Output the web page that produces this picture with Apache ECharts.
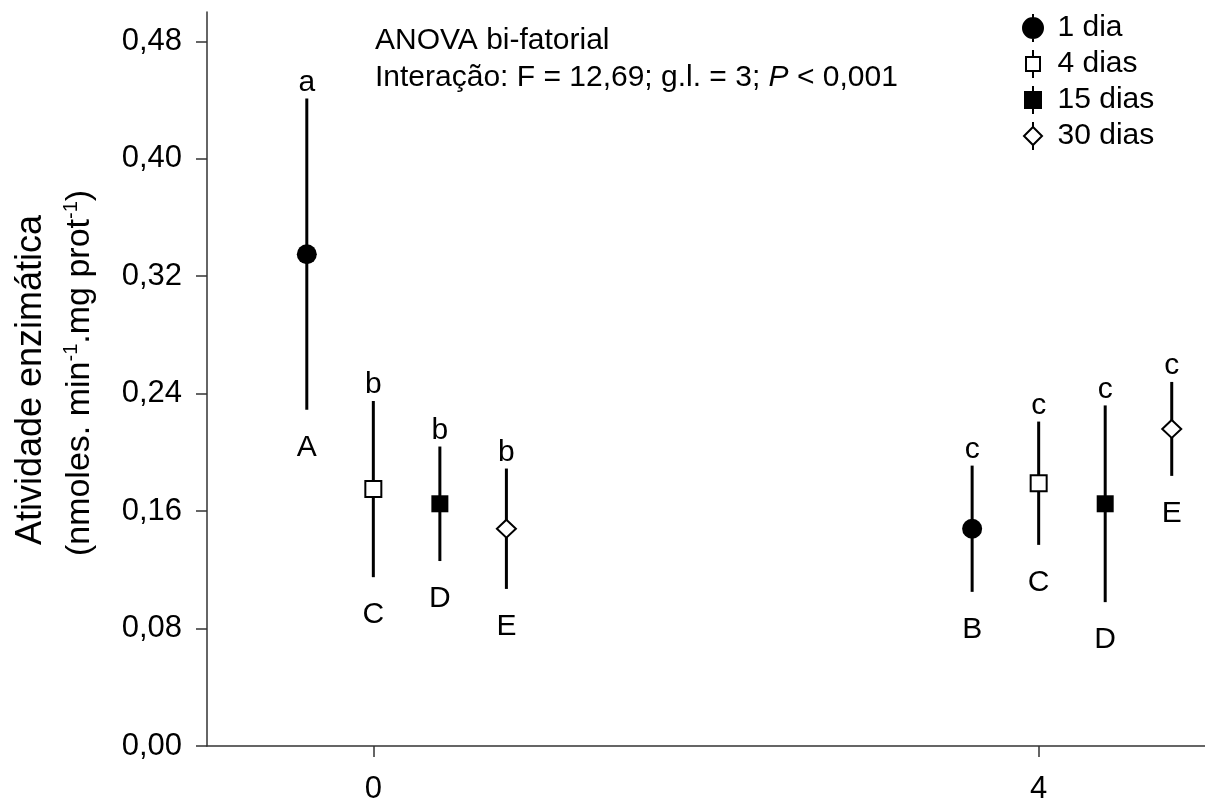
<!DOCTYPE html>
<html>
<head>
<meta charset="utf-8">
<script src="https://cdn.jsdelivr.net/npm/echarts@6/dist/echarts.min.js"></script>
<style>
  html, body { margin: 0; padding: 0; background: #fff; }
  #chart { width: 1205px; height: 805px; }
</style>
</head>
<body>
<div id="chart"></div>
<script>
// Sampling times (legend) and exposure groups on the x axis
const timeNames = ['1 dia', '4 dias', '15 dias', '30 dias'];
const groups = [0, 4];
const groupOffsets = [-0.4, 0, 0.4, 0.8];

// Mean enzyme activity per time, for group 0 and group 4
const mean1dia  = [0.335, 0.148];
const mean4dias = [0.175, 0.179];
const mean15dias = [0.165, 0.165];
const mean30dias = [0.148, 0.216];

// Standard deviations (symmetric error bars)
const sd1dia  = [0.106, 0.043];
const sd4dias = [0.060, 0.042];
const sd15dias = [0.039, 0.067];
const sd30dias = [0.041, 0.032];

// Significance letters: lowercase above each bar, uppercase below
const upperLetters = [['a', 'c'], ['b', 'c'], ['b', 'c'], ['b', 'c']];
const lowerLetters = [['A', 'B'], ['C', 'C'], ['D', 'D'], ['E', 'E']];

// Axis ticks
const yTicks = [0, 0.08, 0.16, 0.24, 0.32, 0.40, 0.48];
const xTicks = [0, 4];

const means = [mean1dia, mean4dias, mean15dias, mean30dias];
const sds = [sd1dia, sd4dias, sd15dias, sd30dias];

const FONT = '"Liberation Sans", Arial, sans-serif';
const markerKinds = ['circle', 'square', 'filledSquare', 'diamond'];

function markerShape(kind, cx, cy) {
  if (kind === 'circle') {
    return { type: 'circle', shape: { cx: cx, cy: cy, r: 10 }, style: { fill: '#000' } };
  }
  if (kind === 'square') {
    return { type: 'rect', shape: { x: cx - 8, y: cy - 8, width: 16, height: 16 },
             style: { fill: '#fff', stroke: '#000', lineWidth: 2 } };
  }
  if (kind === 'filledSquare') {
    return { type: 'rect', shape: { x: cx - 8.5, y: cy - 8.5, width: 17, height: 17 },
             style: { fill: '#000' } };
  }
  return { type: 'polygon',
           shape: { points: [[cx, cy - 9], [cx + 9.5, cy], [cx, cy + 9], [cx - 9.5, cy]] },
           style: { fill: '#fff', stroke: '#000', lineWidth: 2 } };
}

const letterStyle = { font: '30px ' + FONT, fill: '#000', textAlign: 'center', textVerticalAlign: 'middle' };

const series = timeNames.map(function (name, t) {
  return {
    name: name,
    type: 'custom',
    data: groups.map(function (g, gi) { return [g + groupOffsets[t], means[t][gi], sds[t][gi]]; }),
    encode: { x: 0, y: 1 },
    clip: false,
    renderItem: function (params, api) {
      const x = api.value(0), m = api.value(1), s = api.value(2);
      const c = api.coord([x, m]);
      const top = api.coord([x, m + s]);
      const bot = api.coord([x, m - s]);
      const gi = params.dataIndex;
      return {
        type: 'group',
        children: [
          { type: 'line', shape: { x1: c[0], y1: top[1], x2: c[0], y2: bot[1] },
            style: { stroke: '#000', lineWidth: 3 } },
          markerShape(markerKinds[t], c[0], c[1]),
          { type: 'text', x: c[0], y: top[1] - 16,
            style: Object.assign({ text: upperLetters[t][gi] }, letterStyle) },
          { type: 'text', x: c[0], y: bot[1] + 38,
            style: Object.assign({ text: lowerLetters[t][gi] }, letterStyle) }
        ]
      };
    }
  };
});

// Legend icons (39 x 28 box): marker with short error-bar stubs
const legendIcons = [
  'path://M0,0M39,28M19.5,0L19.5,28M9.5,14A10,10,0,1,1,29.5,14A10,10,0,1,1,9.5,14Z',
  'path://M0,0M39,28M19.5,0L19.5,7M12.5,7L26.5,7L26.5,21L12.5,21ZM19.5,21L19.5,28',
  'path://M0,0M39,28M19.5,0L19.5,6M11.5,6L27.5,6L27.5,22L11.5,22ZM19.5,22L19.5,28',
  'path://M0,0M39,28M19.5,0L19.5,5M19.5,5L28.5,14L19.5,23L10.5,14ZM19.5,23L19.5,28'
];
const legendFills = ['#000', '#fff', '#000', '#fff'];

const chart = echarts.init(document.getElementById('chart'), null, { renderer: 'canvas' });
chart.setOption({
  animation: false,
  backgroundColor: '#fff',
  grid: { left: 207, right: 0, top: 12, bottom: 55, containLabel: false },
  xAxis: {
    type: 'value', min: -1, max: 5,
    splitLine: { show: false },
    axisLine: { onZero: false, lineStyle: { color: '#333', width: 1.5 } },
    axisTick: { customValues: xTicks, length: 11, lineStyle: { color: '#333', width: 1.5 } },
    axisLabel: { customValues: xTicks, margin: 28, color: '#000', fontSize: 31, fontFamily: FONT,
                 formatter: function (v) { return String(v); } }
  },
  yAxis: {
    type: 'value', min: 0, max: 0.5,
    splitLine: { show: false },
    axisLine: { show: true, onZero: false, lineStyle: { color: '#333', width: 1.5 } },
    axisTick: { show: true, customValues: yTicks, length: 11, lineStyle: { color: '#333', width: 1.5 } },
    axisLabel: { customValues: yTicks, margin: 25, color: '#000', fontSize: 31, fontFamily: FONT,
                 formatter: function (v) { return v.toFixed(2).replace('.', ','); } }
  },
  legend: {
    orient: 'vertical',
    left: 1012.5, top: 13, padding: 0,
    itemWidth: 39, itemHeight: 28,
    itemGap: 6,
    selectedMode: false,
    textStyle: { fontSize: 30, fontFamily: FONT, color: '#000', lineHeight: 30 },
    data: timeNames.map(function (n, i) {
      return { name: n, icon: legendIcons[i],
               itemStyle: { color: legendFills[i], borderColor: '#000', borderWidth: 2 } };
    })
  },
  graphic: [
    { type: 'text', left: 375, top: 26,
      style: { text: 'ANOVA bi-fatorial', font: '30px ' + FONT, fill: '#000' } },
    { type: 'text', left: 375, top: 63,
      style: { text: 'Interação: F = 12,69; g.l. = 3; {it|P} < 0,001', font: '30px ' + FONT, fill: '#000',
               rich: { it: { fontStyle: 'italic', fontSize: 30, fontFamily: FONT } } } },
    { type: 'text', x: 31, y: 380, rotation: Math.PI / 2,
      style: { text: 'Atividade enzimática', font: '36px ' + FONT, fill: '#000',
               textAlign: 'center', textVerticalAlign: 'middle' } },
    { type: 'text', x: 80, y: 373, rotation: Math.PI / 2,
      style: { text: '(nmoles. min{sup|-1}.mg prot{sup|-1})', font: '34px ' + FONT, fill: '#000',
               textAlign: 'center', textVerticalAlign: 'middle',
               rich: { sup: { fontSize: 20, fontFamily: FONT, verticalAlign: 'top', lineHeight: 38 } } } }
  ],
  series: series
});
</script>
</body>
</html>
